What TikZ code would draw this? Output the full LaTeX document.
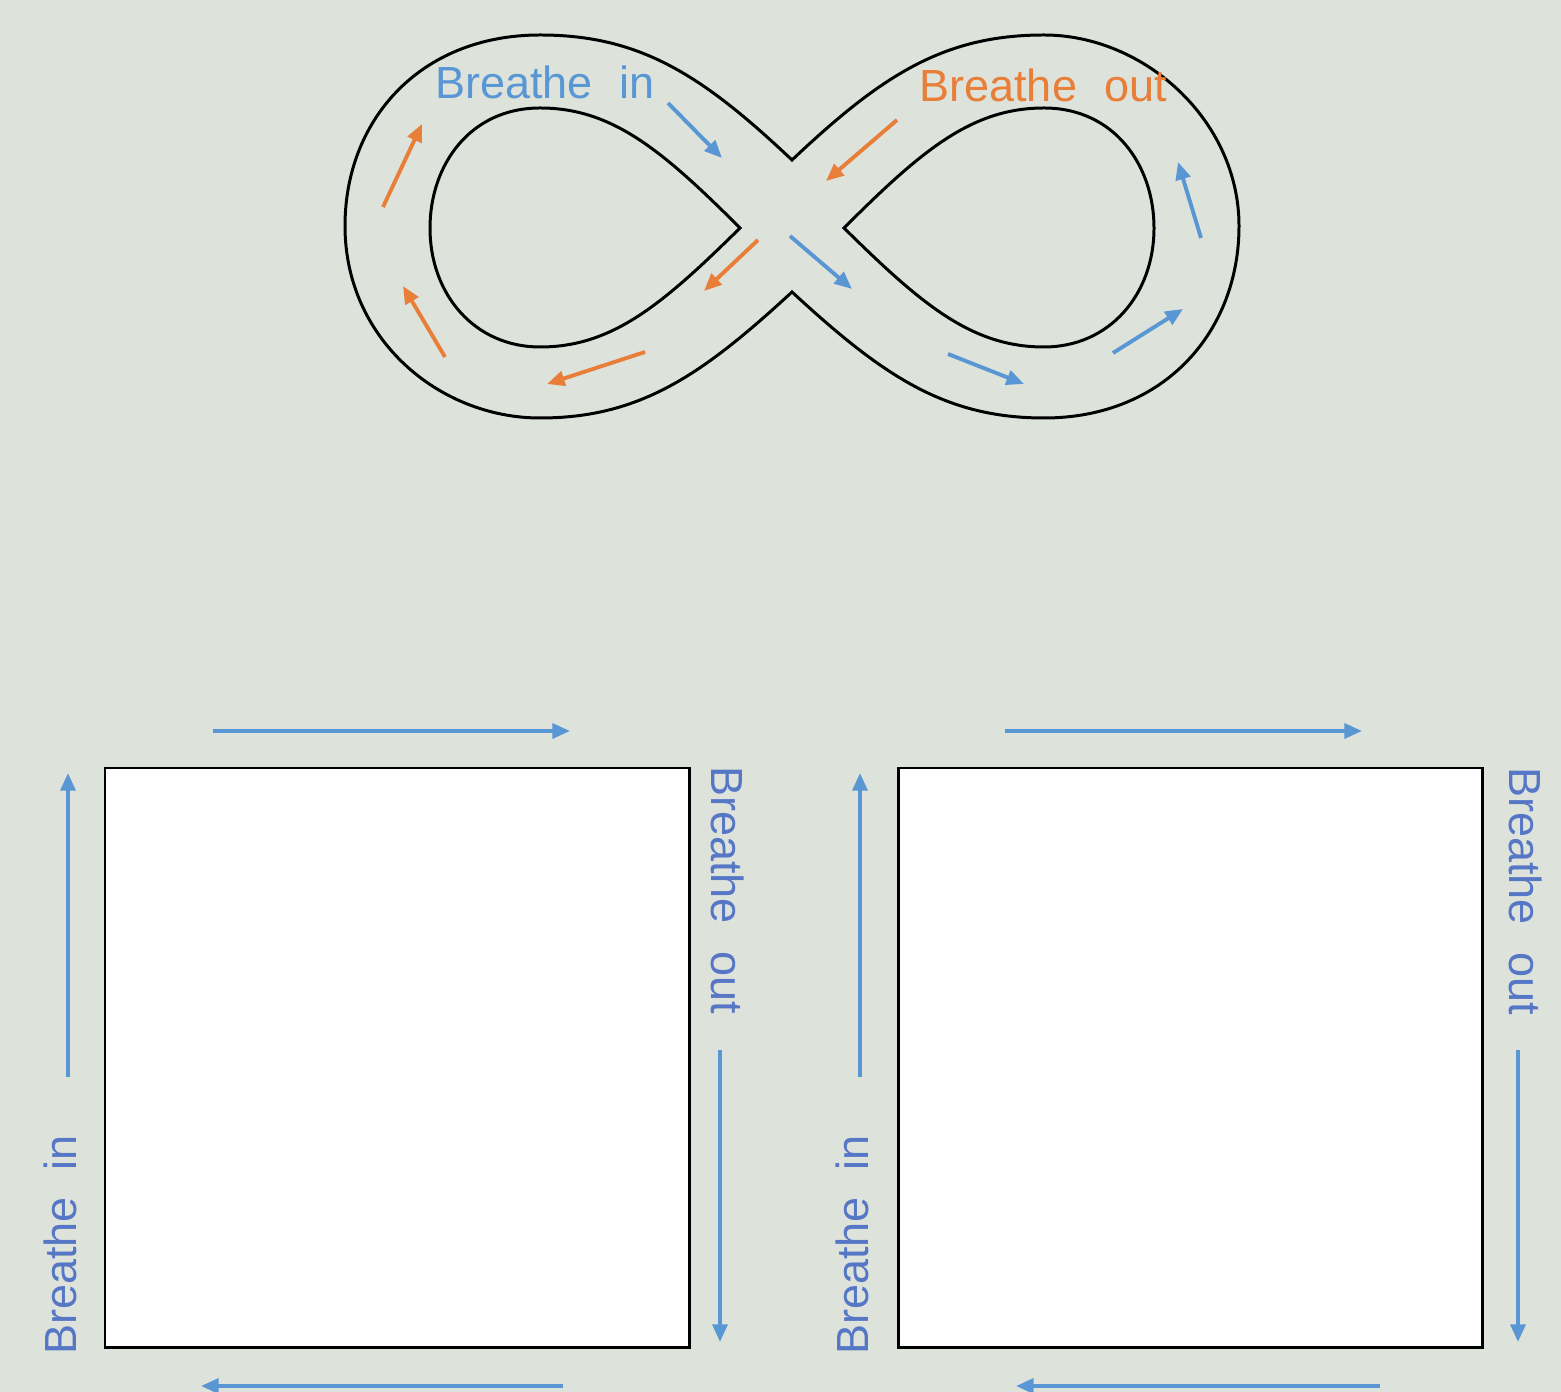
\documentclass[tikz,border=0pt]{standalone}
\usepackage{fontspec}
\setmainfont{Liberation Sans}
\usetikzlibrary{arrows.meta}
\definecolor{bg}{RGB}{221,226,219}
\definecolor{bblue}{RGB}{88,150,212}
\definecolor{borange}{RGB}{232,126,56}
\definecolor{tblue}{RGB}{86,118,198}
\tikzset{
  barrow/.style={draw=bblue,line width=1.1pt,-{Triangle[length=5pt,width=4.2pt]}},
  oarrow/.style={draw=borange,line width=1.1pt,-{Triangle[length=5pt,width=4.2pt]}},
  outline/.style={draw=black,line width=0.85pt},
  lbl/.style={font=\fontsize{12.8pt}{14pt}\selectfont,inner sep=0pt},
  sq/.style={draw=black,line width=0.85pt,fill=white}
}
\begin{document}
\begin{tikzpicture}[x=0.01cm,y=-0.01cm]
\useasboundingbox (0,0) rectangle (1561,1392);
\fill[bg] (0,0) rectangle (1561,1392);
% infinity outer
\draw[outline] (792,160) .. controls (702,75) and (640,35) .. (540,35)
  .. controls (420,35) and (345,120) .. (345,226)
  .. controls (345,340) and (440,418) .. (540,418)
  .. controls (640,418) and (702,375) .. (792,292)
  .. controls (882,375) and (944,418) .. (1044,418)
  .. controls (1164,418) and (1239,332) .. (1239,226)
  .. controls (1239,120) and (1144,35) .. (1044,35)
  .. controls (944,35) and (882,75) .. (792,160) -- cycle;
% inner loops
\draw[outline] (740,228) .. controls (662,150) and (612,108) .. (540,108)
  .. controls (470,108) and (430,165) .. (430,228)
  .. controls (430,295) and (475,347) .. (540,347)
  .. controls (612,347) and (662,305) .. (740,228) -- cycle;
\draw[outline] (844,228) .. controls (922,150) and (972,108) .. (1044,108)
  .. controls (1114,108) and (1154,165) .. (1154,228)
  .. controls (1154,295) and (1109,347) .. (1044,347)
  .. controls (972,347) and (922,305) .. (844,228) -- cycle;
% labels
\node[lbl,text=bblue] (tin) at (545,82) {Breathe\hspace{0.6em}in};
\node[lbl,text=borange] (tout) at (1043,85) {Breathe\hspace{0.6em}out};
% orange arrows
\draw[oarrow] (383,207) -- (422,124);
\draw[oarrow] (445,357) -- (403,286);
\draw[oarrow] (645,352) -- (547,384);
\draw[oarrow] (758,240) -- (704,291);
\draw[oarrow] (897,120) -- (826,181);
% blue arrows
\draw[barrow] (668,103) -- (722,158);
\draw[barrow] (790,236) -- (852,289);
\draw[barrow] (948,354) -- (1024,384);
\draw[barrow] (1113,353) -- (1183,309);
\draw[barrow] (1201,238) -- (1178,162);
% squares
\draw[sq] (105,768) rectangle (689,1347);
\draw[sq] (898,768) rectangle (1482,1347);
% left square arrows
\draw[barrow] (213,731) -- (570,731);
\draw[barrow] (68,1077) -- (68,773);
\draw[barrow] (720,1050) -- (720,1342);
\draw[barrow] (563,1386) -- (201,1386);
% right square arrows
\draw[barrow] (1005,731) -- (1362,731);
\draw[barrow] (860,1077) -- (860,773);
\draw[barrow] (1518,1050) -- (1518,1342);
\draw[barrow] (1380,1386) -- (1016,1386);
% rotated labels
\node[lbl,text=tblue,rotate=90] (lin1) at (60,1245) {Breathe\hspace{0.6em}in};
\node[lbl,text=tblue,rotate=-90] (lout1) at (728,890) {Breathe\hspace{0.6em}out};
\node[lbl,text=tblue,rotate=90] (lin2) at (852,1245) {Breathe\hspace{0.6em}in};
\node[lbl,text=tblue,rotate=-90] (lout2) at (1526,891) {Breathe\hspace{0.6em}out};
\end{tikzpicture}
\end{document}
